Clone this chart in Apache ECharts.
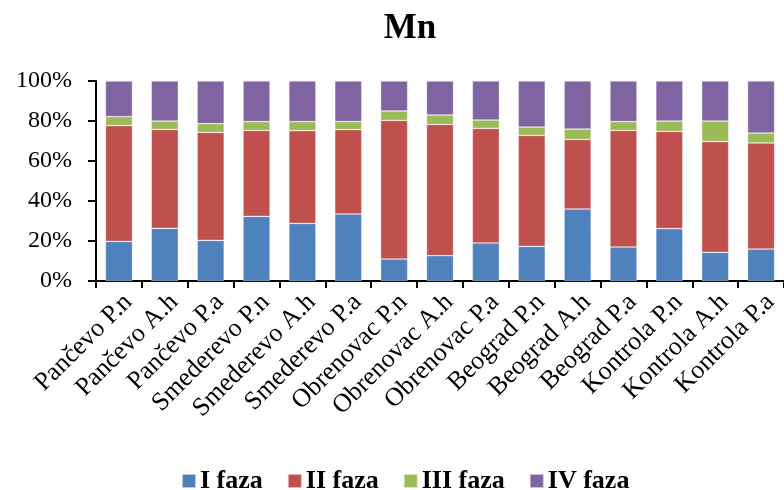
<!DOCTYPE html>
<html><head><meta charset="utf-8">
<script src="https://cdn.jsdelivr.net/npm/echarts@6/dist/echarts.min.js"></script>
<style>html,body{margin:0;padding:0;background:#fff}#c{width:784px;height:490px}</style>
</head><body><div id="c"></div>
<script>
const categories = ['Pančevo P.n','Pančevo A.h','Pančevo P.a','Smederevo P.n','Smederevo A.h','Smederevo P.a','Obrenovac P.n','Obrenovac A.h','Obrenovac P.a','Beograd P.n','Beograd A.h','Beograd P.a','Kontrola P.n','Kontrola A.h','Kontrola P.a'];
const faza1 = [19.8,26.3,20.3,32.3,28.8,33.5,11.0,12.7,19.0,17.3,36.0,17.0,26.2,14.3,16.0];
const faza2 = [57.9,49.5,54.0,43.0,46.4,42.2,69.3,65.6,57.3,55.5,34.8,58.3,48.6,55.4,53.0];
const faza3 = [4.5,4.2,4.4,4.4,4.5,4.0,4.7,4.7,4.2,4.2,5.2,4.4,5.2,10.3,5.0];
const faza4 = [17.8,20.0,21.3,20.3,20.3,20.3,15.0,17.0,19.5,23.0,24.0,20.3,20.0,20.0,26.0];
const seriesNames = ['I faza','II faza','III faza','IV faza'];
const colors = ['#4F81BD','#C0504D','#9BBB59','#8064A2'];
const yTicks = [0,20,40,60,80,100];

const font = '"Liberation Serif","Times New Roman",serif';
const chart = echarts.init(document.getElementById('c'));
const data = [faza1,faza2,faza3,faza4];
chart.setOption({
  animation:false,
  title:{text:'Mn',left:405,top:6,textAlign:'center',textStyle:{fontFamily:font,fontSize:35,fontWeight:'bold',color:'#000'}},
  legend:{top:463,left:176,itemWidth:14,itemHeight:14,itemGap:24,icon:'rect',
    textStyle:{fontFamily:font,fontSize:26,fontWeight:'bold',color:'#000',padding:[0,0,0,-1]},data:seriesNames},
  grid:{left:96,top:81,height:200,width:689},
  xAxis:{type:'category',data:categories,
    axisLine:{lineStyle:{color:'#000',width:2}},
    axisTick:{show:true,length:7,lineStyle:{color:'#000',width:2}},
    axisLabel:{rotate:45,interval:0,margin:8,verticalAlign:'top',fontFamily:font,fontSize:26,color:'#000'}},
  yAxis:{type:'value',min:0,max:100,interval:20,
    axisLine:{show:true,lineStyle:{color:'#000',width:2}},
    axisTick:{show:true,length:8,lineStyle:{color:'#000',width:2}},
    splitLine:{show:false},
    axisLabel:{formatter:v=>yTicks.includes(v)?v+'%':'',margin:24,fontFamily:font,fontSize:24,color:'#000'}},
  series:data.map((d,i)=>({name:seriesNames[i],type:'bar',stack:'a',data:d,barWidth:27,
    itemStyle:{color:colors[i],borderColor:'rgba(255,255,255,0.6)',borderWidth:0.6}}))
});
</script></body></html>
